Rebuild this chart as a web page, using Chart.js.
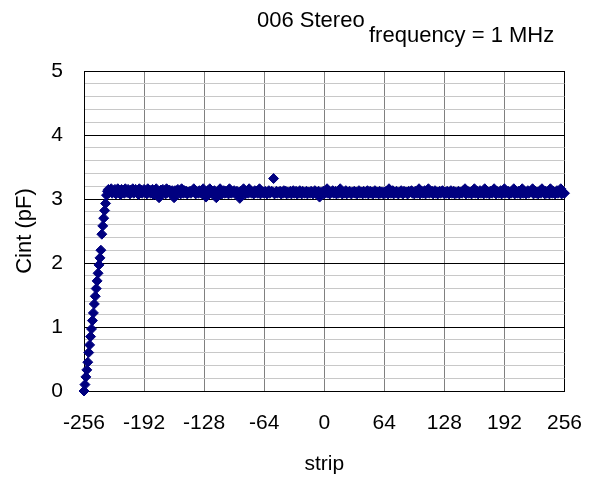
<!DOCTYPE html>
<html>
<head>
<meta charset="utf-8">
<title>006 Stereo - Cint vs strip</title>
<script src="https://cdn.jsdelivr.net/npm/chart.js@4"></script>
<style>
  html, body { margin: 0; padding: 0; background: #fff; }
  #wrap { width: 602px; height: 477px; }
</style>
</head>
<body>
<div id="wrap"><canvas id="cint" width="602" height="477"></canvas></div>
<script>
// interstrip capacitance per strip, 1 MHz
const firstStrip = -256;
const cintPF = [
  0.00,0.10,0.22,0.33,0.45,0.60,0.72,0.85,0.97,1.10,1.22,1.36,1.48,1.60,1.72,1.84,
  1.97,2.08,2.20,2.45,2.58,2.70,2.82,2.93,3.06,3.12,3.15,3.10,3.14,3.16,3.09,3.13,
  3.11,3.15,3.08,3.13,3.16,3.10,3.12,3.07,3.15,3.11,3.14,3.09,3.16,3.12,3.10,3.15,
  3.13,3.08,3.14,3.11,3.16,3.09,3.12,3.15,3.10,3.13,3.07,3.16,3.11,3.14,3.09,3.12,
  3.15,3.10,3.13,3.08,3.16,3.11,3.14,3.09,3.12,3.15,3.07,3.13,3.10,3.16,3.11,3.08,
  3.02,3.12,3.14,3.09,3.15,3.11,3.13,3.08,3.16,3.10,3.12,3.14,3.09,3.11,3.13,3.10,
  3.02,3.13,3.09,3.12,3.15,3.10,3.11,3.08,3.16,3.12,3.09,3.13,3.10,3.12,3.08,3.11,
  3.10,3.12,3.09,3.11,3.13,3.16,3.10,3.08,3.12,3.11,3.09,3.13,3.10,3.12,3.08,3.16,
  3.11,3.09,3.03,3.10,3.13,3.08,3.16,3.11,3.09,3.12,3.10,3.13,3.08,3.02,3.11,3.09,
  3.12,3.16,3.10,3.08,3.11,3.13,3.09,3.12,3.10,3.11,3.08,3.16,3.12,3.09,3.11,3.10,
  3.13,3.09,3.11,3.12,3.08,3.10,3.01,3.12,3.09,3.11,3.16,3.10,3.08,3.12,3.11,3.09,
  3.16,3.10,3.12,3.09,3.11,3.08,3.13,3.10,3.12,3.09,3.11,3.16,3.08,3.12,3.10,3.11,
  3.09,3.12,3.10,3.08,3.11,3.13,3.09,3.10,3.12,3.11,3.32,3.08,3.10,3.12,3.09,3.11,
  3.10,3.12,3.08,3.11,3.09,3.13,3.10,3.12,3.08,3.11,3.09,3.10,3.12,3.08,3.11,3.13,
  3.09,3.10,3.12,3.08,3.11,3.09,3.13,3.10,3.08,3.12,3.11,3.09,3.10,3.12,3.08,3.11,
  3.10,3.09,3.12,3.11,3.08,3.10,3.13,3.09,3.11,3.08,3.12,3.03,3.10,3.09,3.11,3.12,
  3.08,3.11,3.10,3.16,3.09,3.12,3.08,3.10,3.11,3.13,3.09,3.10,3.12,3.08,3.11,3.09,
  3.10,3.16,3.12,3.08,3.11,3.09,3.10,3.13,3.08,3.11,3.10,3.12,3.09,3.08,3.11,3.10,
  3.12,3.09,3.11,3.08,3.10,3.13,3.09,3.11,3.10,3.08,3.12,3.10,3.09,3.11,3.13,3.08,
  3.10,3.12,3.09,3.11,3.08,3.10,3.13,3.09,3.11,3.10,3.08,3.12,3.09,3.11,3.10,3.08,
  3.11,3.09,3.12,3.10,3.08,3.16,3.11,3.09,3.10,3.13,3.08,3.11,3.10,3.12,3.09,3.08,
  3.11,3.10,3.13,3.09,3.08,3.12,3.10,3.11,3.09,3.08,3.12,3.10,3.11,3.13,3.09,3.10,
  3.08,3.12,3.11,3.09,3.10,3.16,3.08,3.11,3.12,3.09,3.10,3.13,3.08,3.11,3.10,3.16,
  3.09,3.11,3.10,3.12,3.08,3.10,3.13,3.09,3.11,3.08,3.10,3.12,3.09,3.11,3.13,3.10,
  3.08,3.11,3.09,3.12,3.10,3.08,3.11,3.13,3.09,3.10,3.12,3.08,3.11,3.09,3.10,3.12,
  3.08,3.11,3.10,3.09,3.13,3.11,3.16,3.08,3.10,3.12,3.09,3.11,3.10,3.08,3.12,3.10,
  3.16,3.09,3.11,3.12,3.08,3.10,3.13,3.09,3.11,3.10,3.08,3.16,3.12,3.09,3.10,3.11,
  3.08,3.12,3.10,3.09,3.11,3.16,3.10,3.08,3.12,3.11,3.09,3.10,3.13,3.08,3.11,3.10,
  3.16,3.09,3.11,3.10,3.12,3.08,3.11,3.09,3.10,3.13,3.16,3.08,3.11,3.10,3.09,3.12,
  3.10,3.08,3.11,3.16,3.09,3.12,3.10,3.08,3.11,3.13,3.09,3.10,3.12,3.11,3.16,3.08,
  3.10,3.12,3.09,3.11,3.08,3.10,3.13,3.09,3.16,3.11,3.10,3.08,3.12,3.09,3.11,3.10,
  3.08,3.16,3.11,3.09,3.12,3.10,3.08,3.11,3.13,3.09,3.10,3.12,3.16,3.08,3.11,3.10,
  3.09
];
const stripTicks = [-256, -192, -128, -64, 0, 64, 128, 192, 256];
const cintTicks = [0, 1, 2, 3, 4, 5];

const FONT = "'Liberation Sans', Arial, sans-serif";
const NAVY = '#000080';

const points = cintPF.map((v, i) => ({ x: firstStrip + i, y: v }));
const isWhole = v => Math.abs(v - Math.round(v)) < 1e-6;

// header text sits above the plot, Excel style
const headerText = {
  id: 'headerText',
  afterDraw(chart) {
    const ctx = chart.ctx;
    ctx.save();
    ctx.fillStyle = '#000';
    ctx.font = '22px ' + FONT;
    ctx.textAlign = 'left';
    ctx.textBaseline = 'alphabetic';
    ctx.fillText('006 Stereo', 257, 27);
    ctx.fillText('frequency = 1 MHz', 369, 42);
    ctx.restore();
  }
};

new Chart(document.getElementById('cint'), {
  type: 'scatter',
  data: {
    datasets: [{
      label: 'Cint',
      data: points,
      pointStyle: 'rectRot',
      pointRadius: 5,
      pointHoverRadius: 5,
      borderWidth: 1,
      borderColor: NAVY,
      backgroundColor: NAVY,
      clip: false
    }]
  },
  options: {
    responsive: false,
    animation: false,
    events: [],
    layout: { padding: { top: 71, right: 31, left: 0, bottom: 0 } },
    plugins: {
      legend: { display: false },
      tooltip: { enabled: false }
    },
    scales: {
      x: {
        type: 'linear',
        min: stripTicks[0],
        max: stripTicks[stripTicks.length - 1],
        afterFit: s => { s.height = 86; },
        afterBuildTicks: s => { s.ticks = stripTicks.map(v => ({ value: v })); },
        ticks: {
          color: '#000',
          font: { family: FONT, size: 21 },
          padding: 20,
          maxRotation: 0,
          autoSkip: false
        },
        grid: {
          drawTicks: false,
          lineWidth: 1,
          color: c => Math.abs(c.tick.value) === 256 ? '#000' : '#808080'
        },
        border: { color: '#000', width: 1 },
        title: {
          display: true,
          text: 'strip',
          color: '#000',
          font: { family: FONT, size: 21 },
          padding: { top: 0, bottom: 0 }
        }
      },
      y: {
        type: 'linear',
        min: cintTicks[0],
        max: cintTicks[cintTicks.length - 1],
        afterFit: s => { s.width = 84; },
        ticks: {
          stepSize: 0.2,
          autoSkip: false,
          color: '#000',
          font: { family: FONT, size: 21 },
          padding: 21,
          callback: v => isWhole(v) && cintTicks.includes(Math.round(v)) ? String(Math.round(v)) : ''
        },
        grid: {
          drawTicks: false,
          lineWidth: 1,
          color: c => isWhole(c.tick.value) ? '#000' : '#c8c8c8'
        },
        border: { color: '#000', width: 1 },
        title: {
          display: true,
          text: 'Cint (pF)',
          color: '#000',
          font: { family: FONT, size: 22 },
          padding: { top: 12, bottom: 0 }
        }
      }
    }
  },
  plugins: [headerText]
});
</script>
</body>
</html>
